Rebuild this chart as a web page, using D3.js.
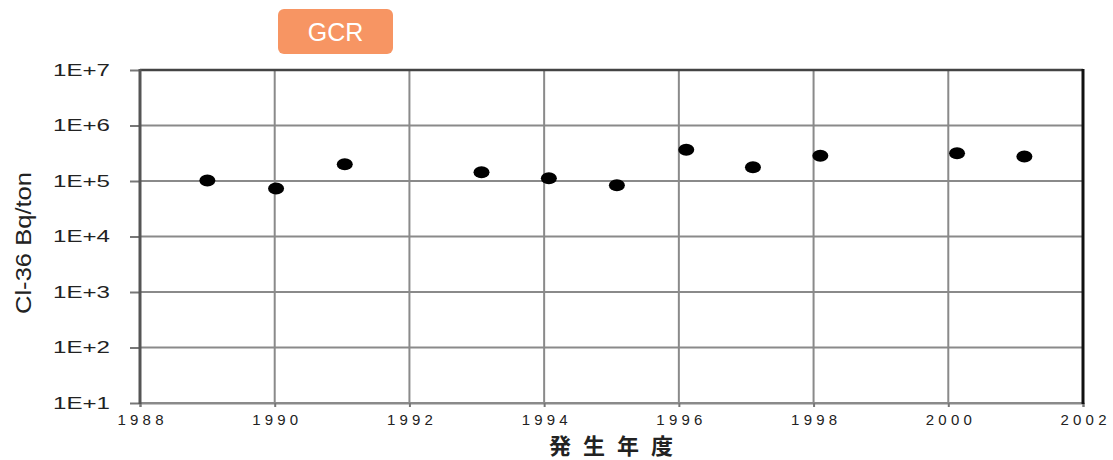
<!DOCTYPE html>
<html>
<head>
<meta charset="utf-8">
<script src="https://cdn.jsdelivr.net/npm/d3@7"></script>
<style>
  body { margin: 0; background: #fff; }
  svg { display: block; }
  text { font-family: Arial, "Liberation Sans", sans-serif; }
</style>
</head>
<body>
<svg id="chart" width="1113" height="460"></svg>
<script>
// Cl-36 per ton, GCR, by year of occurrence
var years  = [1989.0, 1990.02, 1991.04, 1993.07, 1994.07, 1995.08, 1996.11, 1997.1, 1998.1, 2000.13, 2001.13];
var values = [1.02e5, 7.3e4, 2.0e5, 1.44e5, 1.12e5, 8.4e4, 3.65e5, 1.77e5, 2.85e5, 3.15e5, 2.75e5];
var xTicks = [1988, 1990, 1992, 1994, 1996, 1998, 2000, 2002];
var yTicks = [1e1, 1e2, 1e3, 1e4, 1e5, 1e6, 1e7];
var yLabels = ["1E+1", "1E+2", "1E+3", "1E+4", "1E+5", "1E+6", "1E+7"];

var svg = d3.select("#chart");
var margin = {top: 70, right: 30, bottom: 57, left: 140},
    width = 1083 - margin.left,
    height = 403 - margin.top,
    g = svg.append("g").attr("transform", "translate(" + margin.left + "," + margin.top + ")");

var x = d3.scaleLinear().domain([1988, 2002]).range([0, width]);
var y = d3.scaleLog().domain([1e1, 1e7]).range([height, 0]);

// grid
g.append("g").selectAll("line.h")
  .data(yTicks)
  .enter().append("line")
    .attr("x1", 0).attr("x2", width)
    .attr("y1", function(d) { return y(d); })
    .attr("y2", function(d) { return y(d); })
    .attr("stroke", "#8a8a8a").attr("stroke-width", 2);

g.append("g").selectAll("line.v")
  .data(xTicks.slice(1, -1))
  .enter().append("line")
    .attr("x1", function(d) { return x(d); })
    .attr("x2", function(d) { return x(d); })
    .attr("y1", 0).attr("y2", height)
    .attr("stroke", "#8a8a8a").attr("stroke-width", 2);

// y axis
var yAxis = g.append("g")
  .call(d3.axisLeft(y).tickValues(yTicks)
    .tickFormat(function(d, i) { return yLabels[i]; })
    .tickSize(10).tickPadding(20));
yAxis.select(".domain").remove();
yAxis.selectAll(".tick line").attr("stroke", "#777").attr("stroke-width", 2);
yAxis.selectAll("text")
  .attr("font-size", 17).attr("fill", "#222")
  .style("font-family", "Arial, 'Liberation Sans', sans-serif")
  .attr("textLength", 57).attr("lengthAdjust", "spacingAndGlyphs");

// x axis
var xAxis = g.append("g")
  .attr("transform", "translate(0," + height + ")")
  .call(d3.axisBottom(x).tickValues(xTicks).tickFormat(d3.format("d"))
    .tickSize(4).tickPadding(7));
xAxis.select(".domain").attr("stroke", "#8a8a8a").attr("stroke-width", 2);
xAxis.selectAll(".tick line").attr("stroke", "#777").attr("stroke-width", 2);
xAxis.selectAll("text")
  .attr("font-size", 15).attr("fill", "#222")
  .style("font-family", "Arial, 'Liberation Sans', sans-serif")
  .attr("textLength", 46).attr("lengthAdjust", "spacing");

// frame
g.append("line").attr("x1", 0).attr("x2", width).attr("y1", 0).attr("y2", 0)
  .attr("stroke", "#444").attr("stroke-width", 2.5);
g.append("line").attr("x1", 0).attr("x2", 0).attr("y1", -1).attr("y2", height + 1)
  .attr("stroke", "#555").attr("stroke-width", 3);
g.append("line").attr("x1", width).attr("x2", width).attr("y1", -1).attr("y2", height + 1)
  .attr("stroke", "#111").attr("stroke-width", 3);

// points
g.append("g").selectAll("ellipse")
  .data(years)
  .enter().append("ellipse")
    .attr("cx", function(d) { return x(d); })
    .attr("cy", function(d, i) { return y(values[i]); })
    .attr("rx", 8).attr("ry", 6)
    .attr("fill", "#000");

// axis titles
svg.append("text")
  .attr("x", 611).attr("y", 454)
  .attr("text-anchor", "middle")
  .attr("font-size", 22).attr("font-weight", "bold").attr("fill", "#222")
  .style("font-family", "'Noto Sans CJK JP', sans-serif")
  .attr("textLength", 124).attr("lengthAdjust", "spacing")
  .text("発生年度");

svg.append("text")
  .attr("transform", "translate(31,243) rotate(-90)")
  .attr("text-anchor", "middle")
  .attr("font-size", 22).attr("fill", "#222")
  .attr("textLength", 142).attr("lengthAdjust", "spacingAndGlyphs")
  .text("Cl-36 Bq/ton");

// GCR badge
svg.append("rect")
  .attr("x", 278).attr("y", 9).attr("width", 115).attr("height", 45)
  .attr("rx", 6).attr("fill", "#F79563");
svg.append("text")
  .attr("x", 335.5).attr("y", 41)
  .attr("text-anchor", "middle")
  .attr("font-size", 25).attr("fill", "#fff")
  .text("GCR");
</script>
</body>
</html>
